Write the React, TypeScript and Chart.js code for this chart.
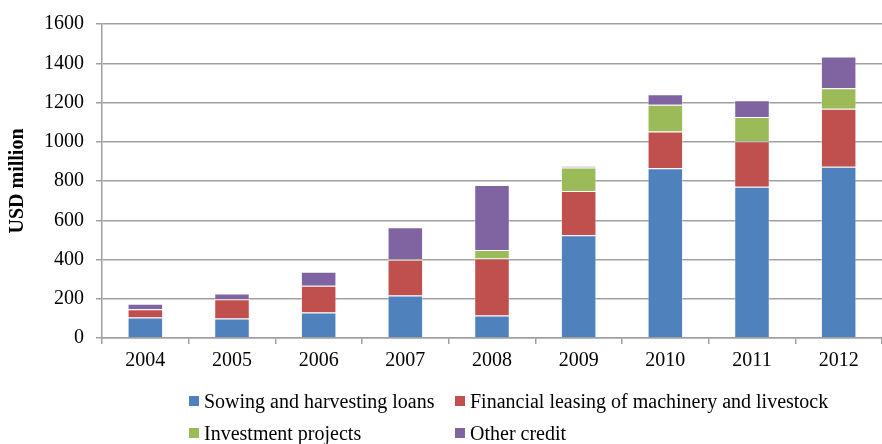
import React, { useEffect, useRef } from "react";
import { Chart, registerables } from "chart.js";

Chart.register(...registerables);

const years = ["2004", "2005", "2006", "2007", "2008", "2009", "2010", "2011", "2012"];
const sowing = [104, 99, 130, 217, 115, 524, 865, 771, 872];
const leasing = [42, 98, 136, 182, 290, 225, 187, 232, 296];
const investment = [0, 0, 0, 3, 43, 120, 136, 123, 105];
const other = [29, 30, 71, 162, 331, 6, 54, 86, 161];
const seriesNames = [
  "Sowing and harvesting loans",
  "Financial leasing of machinery and livestock",
  "Investment projects",
  "Other credit",
];
const colors = ["#4F81BD", "#C0504D", "#9BBB59", "#8064A2"];
const yTicks = [0, 200, 400, 600, 800, 1000, 1200, 1400, 1600];

const FONT = "'Liberation Serif', 'Times New Roman', serif";

export default function App() {
  const ref = useRef<HTMLCanvasElement | null>(null);
  useEffect(() => {
    if (!ref.current) return;
    const values = [sowing, leasing, investment, other];
    const chart = new Chart(ref.current, {
      type: "bar",
      data: {
        labels: years,
        datasets: values.map((v, i) => ({
          label: seriesNames[i],
          data: v,
          backgroundColor: colors[i],
          borderColor: "rgba(255,255,255,0.45)",
          borderWidth: 1,
          categoryPercentage: 1,
          barPercentage: 0.41,
        })),
      },
      options: {
        animation: false,
        responsive: false,
        layout: { padding: { top: 16, right: 0, bottom: 66, left: 0 } },
        plugins: { legend: { display: false }, tooltip: { enabled: false } },
        scales: {
          x: {
            stacked: true,
            offset: true,
            grid: {
              offset: true,
              drawOnChartArea: false,
              color: "#A0A0A0",
              lineWidth: 1.5,
              tickLength: 6,
            },
            border: { color: "#A0A0A0", width: 1.5 },
            ticks: { color: "#000", font: { family: FONT, size: 20 }, padding: 5 },
          },
          y: {
            stacked: true,
            min: 0,
            max: 1600,
            afterBuildTicks: (axis: any) => {
              axis.ticks = yTicks.map((v) => ({ value: v }));
            },
            grid: { color: "#A0A0A0", lineWidth: 1.5, tickLength: 6 },
            border: { color: "#A0A0A0", width: 1.5 },
            ticks: {
              color: "#000",
              font: { family: FONT, size: 20 },
              padding: 12,
              callback: (v: any) => String(v),
            },
            title: {
              display: true,
              text: "USD million",
              color: "#000",
              font: { family: FONT, size: 20, weight: "bold" },
              padding: { top: 6, bottom: 2 },
            },
          },
        },
      },
    });
    return () => chart.destroy();
  }, []);

  const legendItem = (i: number) => (
    <div style={{ display: "flex", alignItems: "center", whiteSpace: "nowrap" }}>
      <span
        style={{
          display: "inline-block",
          width: 10,
          height: 10,
          background: colors[i],
          marginRight: 5,
        }}
      />
      <span>{seriesNames[i]}</span>
    </div>
  );

  return (
    <div style={{ position: "fixed", left: 0, top: 0, width: 882, height: 444, background: "#fff" }}>
      <canvas ref={ref} width={882} height={444} style={{ display: "block" }} />
      <div
        style={{
          position: "absolute",
          left: 189,
          top: 389,
          display: "grid",
          gridTemplateColumns: "266px auto",
          rowGap: 8,
          fontFamily: FONT,
          fontSize: 20,
          lineHeight: "24px",
          color: "#000",
        }}
      >
        {legendItem(0)}
        {legendItem(1)}
        {legendItem(2)}
        {legendItem(3)}
      </div>
    </div>
  );
}
